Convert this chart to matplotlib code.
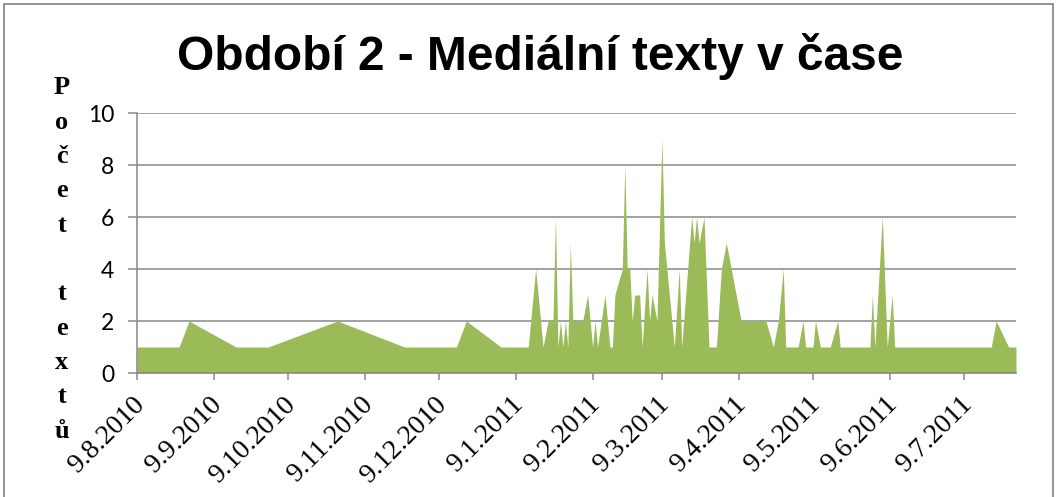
import matplotlib
matplotlib.use("Agg")
import matplotlib.pyplot as plt
import matplotlib.dates as mdates
import matplotlib.transforms as mtransforms
from matplotlib.patches import Rectangle
from matplotlib.ticker import FuncFormatter
import pandas as pd

# ---- data ----
dates = [
    "2010-08-09", "2010-08-26", "2010-08-30", "2010-09-18", "2010-10-01",
    "2010-10-29", "2010-11-25", "2010-12-16", "2010-12-20", "2011-01-03",
    "2011-01-14", "2011-01-17", "2011-01-20", "2011-01-22", "2011-01-24",
    "2011-01-25", "2011-01-26", "2011-01-27", "2011-01-28", "2011-01-29",
    "2011-01-30", "2011-01-31", "2011-02-01", "2011-02-05", "2011-02-07",
    "2011-02-09", "2011-02-10", "2011-02-11", "2011-02-14", "2011-02-16",
    "2011-02-17", "2011-02-18", "2011-02-21", "2011-02-22", "2011-02-23",
    "2011-02-24", "2011-02-25", "2011-02-26", "2011-02-28", "2011-03-01",
    "2011-03-03", "2011-03-04", "2011-03-05", "2011-03-07", "2011-03-09",
    "2011-03-10", "2011-03-14", "2011-03-16", "2011-03-17", "2011-03-21",
    "2011-03-22", "2011-03-23", "2011-03-24", "2011-03-26", "2011-03-28",
    "2011-03-31", "2011-04-02", "2011-04-04", "2011-04-10", "2011-04-20",
    "2011-04-23", "2011-04-25", "2011-04-27", "2011-04-28", "2011-05-03",
    "2011-05-05", "2011-05-06", "2011-05-09", "2011-05-10", "2011-05-12",
    "2011-05-16", "2011-05-19", "2011-05-20", "2011-06-01", "2011-06-02",
    "2011-06-03", "2011-06-06", "2011-06-08", "2011-06-10", "2011-06-11",
    "2011-07-20", "2011-07-22", "2011-07-27", "2011-07-30",
]
counts = [
    1, 1, 2, 1, 1,
    2, 1, 1, 2, 1,
    1, 4, 1, 2, 2,
    6, 1, 2, 1, 2,
    1, 5, 2, 2, 3,
    1, 2, 1, 3, 1,
    1, 3, 4, 8, 4,
    4, 2, 3, 3, 1,
    4, 2, 3, 2, 9,
    5, 1, 4, 1, 6,
    5, 6, 5, 6, 1,
    1, 4, 5, 2, 2,
    1, 2, 4, 1, 1,
    2, 1, 1, 2, 1,
    1, 2, 1, 1, 3,
    1, 6, 1, 3, 1,
    1, 2, 1, 1,
]
title = "Období 2 - Mediální texty v čase"
ylabel = "Počet textů"
yticks = [0, 2, 4, 6, 8, 10]

x = pd.to_datetime(dates)

W, H = 1059, 497
fig = plt.figure(figsize=(W / 100, H / 100), dpi=100)
ax = fig.add_axes([137 / W, 1 - 373 / H, (1016 - 137) / W, (373 - 113) / H])

gray = "#888888"
green = "#9BBB59"

ax.fill_between(x, counts, 0, color=green, linewidth=0, zorder=2)

ax.set_ylim(0, 10)
ax.set_xlim(pd.Timestamp("2010-08-09"), pd.Timestamp("2011-07-30"))
ax.set_yticks(yticks)
ax.yaxis.grid(True, color=gray, linewidth=1.1, zorder=1)
ax.set_axisbelow(True)

for s in ["top", "right"]:
    ax.spines[s].set_visible(False)
for s in ["left", "bottom"]:
    ax.spines[s].set_color(gray)
    ax.spines[s].set_linewidth(1.1)
    ax.spines[s].set_zorder(3)

ax.xaxis.set_major_locator(mdates.MonthLocator(bymonthday=9))
ax.xaxis.set_major_formatter(FuncFormatter(
    lambda v, pos: (lambda d: f"{d.day}.{d.month}.{d.year}")(mdates.num2date(v))))

ax.tick_params(axis="y", direction="out", length=6.5, width=1.1, color=gray,
               pad=10, labelsize=16.5, labelcolor="black")
ax.tick_params(axis="x", direction="out", length=5, width=1.1, color=gray,
               pad=15, labelsize=20, labelcolor="black")

for lab in ax.get_yticklabels():
    lab.set_fontfamily("Lato")

offset = mtransforms.ScaledTranslation(4 / 100, 0, fig.dpi_scale_trans)
for lab in ax.get_xticklabels():
    lab.set_fontfamily("Liberation Serif")
    lab.set_rotation(45)
    lab.set_ha("right")
    lab.set_va("center")
    lab.set_rotation_mode("anchor")
    lab.set_transform(lab.get_transform() + offset)

# title
fig.text(540 / W, 1 - 70 / H, title, ha="center", va="baseline",
         fontsize=34.5, fontweight="bold", family="Liberation Sans")

# vertical stacked y-label
for i, ch in enumerate(ylabel):
    if ch == " ":
        continue
    fig.text(62 / W, 1 - (94.5 + 34.3 * i) / H, ch, ha="center", va="baseline",
             fontsize=19, fontweight="bold", family="Liberation Serif")

# figure border
fig.patches.append(Rectangle((3.5 / W, -0.05), (1053 - 3.5) / W, 1.05 - 3.5 / H,
                             transform=fig.transFigure, fill=False,
                             edgecolor="#8a8a8a", linewidth=1.3))

fig.savefig("out.png", dpi=100)
